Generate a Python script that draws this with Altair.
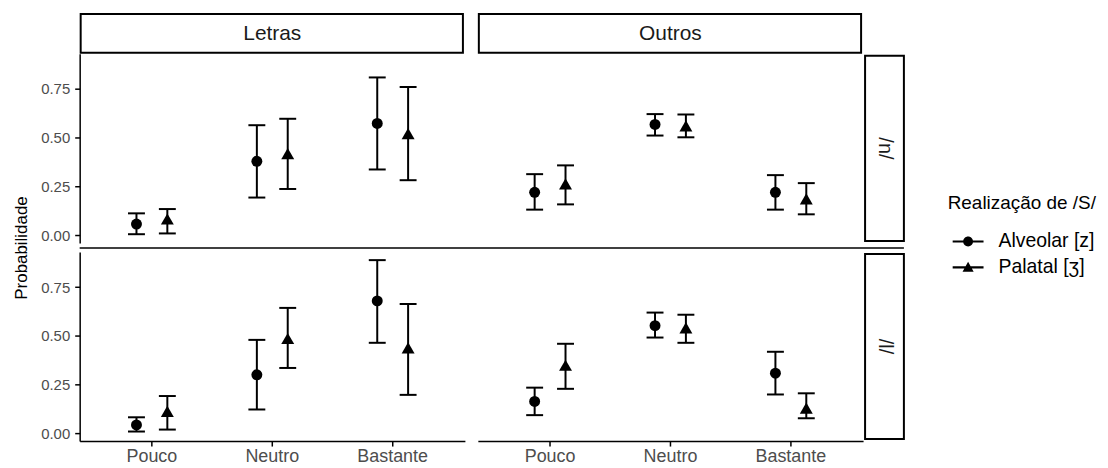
import altair as alt
import pandas as pd

FONT = "Liberation Sans"

niveis = ["Pouco", "Neutro", "Bastante"]
grupos = ["Letras", "Outros"]
fonemas = ["/n/", "/l/"]
series = ["Alveolar [z]", "Palatal [ʒ]"]

# /n/ - Letras
n_letras_alv_est = [0.057, 0.379, 0.573]
n_letras_alv_lo = [0.005, 0.193, 0.337]
n_letras_alv_hi = [0.112, 0.564, 0.809]
n_letras_pal_est = [0.083, 0.418, 0.521]
n_letras_pal_lo = [0.009, 0.237, 0.282]
n_letras_pal_hi = [0.134, 0.597, 0.760]
# /n/ - Outros
n_outros_alv_est = [0.220, 0.568, 0.220]
n_outros_alv_lo = [0.131, 0.511, 0.131]
n_outros_alv_hi = [0.313, 0.621, 0.308]
n_outros_pal_est = [0.263, 0.561, 0.186]
n_outros_pal_lo = [0.158, 0.502, 0.107]
n_outros_pal_hi = [0.358, 0.619, 0.267]
# /l/ - Letras
l_letras_alv_est = [0.043, 0.300, 0.679]
l_letras_alv_lo = [0.009, 0.122, 0.464]
l_letras_alv_hi = [0.082, 0.479, 0.888]
l_letras_pal_est = [0.112, 0.486, 0.438]
l_letras_pal_lo = [0.019, 0.335, 0.197]
l_letras_pal_hi = [0.191, 0.643, 0.663]
# /l/ - Outros
l_outros_alv_est = [0.163, 0.552, 0.308]
l_outros_alv_lo = [0.093, 0.491, 0.199]
l_outros_alv_hi = [0.234, 0.619, 0.418]
l_outros_pal_est = [0.349, 0.541, 0.129]
l_outros_pal_lo = [0.228, 0.464, 0.077]
l_outros_pal_hi = [0.459, 0.608, 0.205]

tabela = {
    ("/n/", "Letras", series[0]): (n_letras_alv_est, n_letras_alv_lo, n_letras_alv_hi),
    ("/n/", "Letras", series[1]): (n_letras_pal_est, n_letras_pal_lo, n_letras_pal_hi),
    ("/n/", "Outros", series[0]): (n_outros_alv_est, n_outros_alv_lo, n_outros_alv_hi),
    ("/n/", "Outros", series[1]): (n_outros_pal_est, n_outros_pal_lo, n_outros_pal_hi),
    ("/l/", "Letras", series[0]): (l_letras_alv_est, l_letras_alv_lo, l_letras_alv_hi),
    ("/l/", "Letras", series[1]): (l_letras_pal_est, l_letras_pal_lo, l_letras_pal_hi),
    ("/l/", "Outros", series[0]): (l_outros_alv_est, l_outros_alv_lo, l_outros_alv_hi),
    ("/l/", "Outros", series[1]): (l_outros_pal_est, l_outros_pal_lo, l_outros_pal_hi),
}

rows = []
for (fon, grp, ser), (est, lo, hi) in tabela.items():
    for i, nv in enumerate(niveis):
        rows.append({"fonema": fon, "grupo": grp, "serie": ser, "nivel": nv,
                     "est": est[i], "lo": lo[i], "hi": hi[i]})
df = pd.DataFrame(rows)

W, H = 387, 190
GAP_COL, GAP_ROW = 13, 9

# legend keys: a thin filled bar (the errorbar line) with the marker on top, all filled
PATH_C = ("M-1,-0.065L1,-0.065L1,0.065L-1,0.065Z"
          "M0.32,0A0.32,0.32,0,1,1,-0.32,0A0.32,0.32,0,1,1,0.32,0Z")
PATH_T = ("M-1,-0.065L1,-0.065L1,0.065L-1,0.065Z"
          "M0,-0.36L0.36,0.28L-0.36,0.28Z")

yscale = alt.Scale(domain=[-0.04, 0.93], nice=False, zero=False)


def panel(fon, grp, left, bottom, top, right, legend):
    base = alt.Chart(df).transform_filter(
        (alt.datum.fonema == fon) & (alt.datum.grupo == grp))
    xaxis = alt.Axis(title=None, labelAngle=0, labelFontSize=18, labelPadding=2) if bottom else None
    if left:
        yaxis = alt.Axis(values=[0, 0.25, 0.5, 0.75], format=".2f", labelFontSize=15,
                         labelPadding=5,
                         title="Probabilidade" if top else None, titleFontSize=17,
                         titleFontWeight="normal", titleColor="black", titlePadding=10,
                         titleY=(2 * H + GAP_ROW) / 2)
    else:
        yaxis = None
    x = alt.X("nivel:N", sort=niveis,
              scale=alt.Scale(domain=niveis, paddingInner=0, paddingOuter=0.1), axis=xaxis)
    xo = alt.XOffset("serie:N",
                     scale=alt.Scale(domain=series, paddingInner=0, paddingOuter=0.95))
    rule = base.mark_rule(color="black", strokeWidth=2).encode(
        x=x, xOffset=xo, y=alt.Y("lo:Q", scale=yscale, axis=yaxis), y2="hi:Q")
    cap_lo = base.mark_tick(color="black", size=17, thickness=2, opacity=1).encode(
        x=x, xOffset=xo, y=alt.Y("lo:Q", scale=yscale, axis=yaxis))
    cap_hi = base.mark_tick(color="black", size=17, thickness=2, opacity=1).encode(
        x=x, xOffset=xo, y=alt.Y("hi:Q", scale=yscale, axis=yaxis))
    pt_a = base.transform_filter(alt.datum.serie == series[0]).mark_point(
        shape="circle", filled=True, size=121, color="black", opacity=1).encode(
        x=x, xOffset=xo, y=alt.Y("est:Q", scale=yscale, axis=yaxis))
    pt_p = base.transform_filter(alt.datum.serie == series[1]).mark_point(
        shape="triangle-up", filled=True, size=169, color="black", opacity=1).encode(
        x=x, xOffset=xo, y=alt.Y("est:Q", scale=yscale, axis=yaxis))
    layers = [rule, cap_lo, cap_hi, pt_a, pt_p]

    if top:
        sdf = pd.DataFrame({"rotulo": [grp]})
        layers.append(alt.Chart(sdf).mark_rect(fill="white", stroke="black", strokeWidth=2).encode(
            x=alt.value(1), x2=alt.value(W - 2), y=alt.value(-40), y2=alt.value(-1)))
        layers.append(alt.Chart(sdf).mark_text(font=FONT, fontSize=21, color="#1A1A1A",
                                              baseline="middle").encode(
            x=alt.value(W / 2), y=alt.value(-20), text="rotulo:N"))
    if right:
        rdf = pd.DataFrame({"rotulo": [fon]})
        layers.append(alt.Chart(rdf).mark_rect(fill="white", stroke="black", strokeWidth=2).encode(
            x=alt.value(W + 2), x2=alt.value(W + 41), y=alt.value(2), y2=alt.value(H - 2)))
        layers.append(alt.Chart(rdf).mark_text(font=FONT, fontSize=20, color="#1A1A1A",
                                              angle=90, baseline="middle").encode(
            x=alt.value(W + 21.5), y=alt.value(H / 2), text="rotulo:N"))
    if left and top:
        sep = pd.DataFrame({"rotulo": ["sep"]})
        layers.append(alt.Chart(sep).mark_rule(color="black", strokeWidth=1.5).encode(
            x=alt.value(0), x2=alt.value(2 * W + GAP_COL + 41), y=alt.value(H + 5)))
    if legend:
        layers.append(base.transform_filter("false").mark_point(
            filled=True, color="black", opacity=1).encode(
            x=x, y=alt.Y("est:Q", scale=yscale, axis=yaxis),
            shape=alt.Shape("serie:N",
                            scale=alt.Scale(domain=series, range=[PATH_C, PATH_T]),
                            legend=alt.Legend(title="Realização de /S/", orient="none",
                                              legendX=872, legendY=141,
                                              symbolSize=961, symbolFillColor="black",
                                              symbolOpacity=1, symbolOffset=4,
                                              labelFontSize=19.5, titleFontSize=19,
                                              titleFontWeight="normal", titleColor="black",
                                              labelColor="black", titlePadding=12,
                                              rowPadding=-4, labelOffset=14, padding=0))))
    return alt.layer(*layers).properties(width=W, height=H)


chart = alt.concat(
    panel("/n/", "Letras", True, False, True, False, True),
    panel("/n/", "Outros", False, False, True, True, False),
    panel("/l/", "Letras", True, True, False, False, False),
    panel("/l/", "Outros", False, True, False, True, False),
    columns=2,
    spacing=alt.RowColnumber(row=GAP_ROW, column=GAP_COL),
    bounds="flush",
).properties(padding=4).configure_view(stroke=None).configure_axis(
    labelFont=FONT, titleFont=FONT, labelColor="#4D4D4D", domainColor="black",
    tickColor="black", domainWidth=1.5, tickWidth=1.5, tickSize=5, grid=False,
).configure_legend(labelFont=FONT, titleFont=FONT)

chart.save("out.html", embed_options={"renderer": "svg", "actions": False})
